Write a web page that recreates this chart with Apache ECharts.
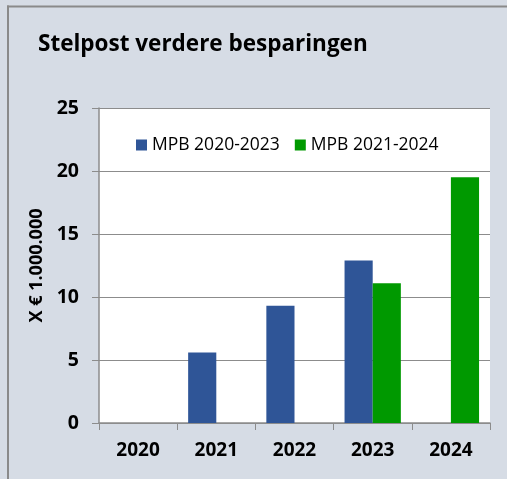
<!DOCTYPE html>
<html>
<head>
<meta charset="utf-8">
<script src="https://cdn.jsdelivr.net/npm/echarts@6/dist/echarts.min.js"></script>
<style>html,body{margin:0;padding:0;background:#d6dce5;}#c{width:507px;height:479px;}</style>
</head>
<body>
<div id="c"></div>
<script>
var categories = ['2020', '2021', '2022', '2023', '2024'];
var seriesNames = ['MPB 2020-2023', 'MPB 2021-2024'];
var mpb2020 = [0, 5.6, 9.3, 12.9, null];
var mpb2021 = [null, null, null, 11.1, 19.5];
var yTicks = { min: 0, max: 25, interval: 5 };

var font = '"Open Sans", "Noto Sans", sans-serif';
var chart = echarts.init(document.getElementById('c'));
chart.setOption({
  backgroundColor: '#d6dce5',
  animation: false,
  textStyle: { fontFamily: font },
  graphic: [
    { type: 'line', shape: { x1: 8, y1: 5.5, x2: 8, y2: 479 }, style: { stroke: '#8a8a8a', lineWidth: 2 } },
    { type: 'line', shape: { x1: 7, y1: 6.5, x2: 507, y2: 6.5 }, style: { stroke: '#8a8a8a', lineWidth: 2 } },
    { type: 'rect', z: -1, shape: { x: 99, y: 108, width: 391, height: 315 }, style: { fill: '#ffffff' } }
  ],
  title: {
    text: 'Stelpost verdere besparingen',
    left: 33, top: 28,
    textStyle: { fontFamily: font, fontWeight: 'bold', fontSize: 22.5, color: '#000' }
  },
  legend: {
    left: 131, top: 131,
    itemWidth: 11, itemHeight: 11, itemGap: 15,
    icon: 'rect',
    textStyle: { fontFamily: font, fontSize: 17.5, color: '#000' },
    data: seriesNames
  },
  grid: { left: 99, top: 108, right: 17, bottom: 56, containLabel: false },
  xAxis: {
    type: 'category',
    data: categories,
    axisLine: { lineStyle: { color: '#8c8c8c', width: 1.5 } },
    axisTick: { show: true, length: 7, lineStyle: { color: '#8c8c8c' } },
    axisLabel: { margin: 18, fontFamily: font, fontWeight: 'bold', fontSize: 19, color: '#000' }
  },
  yAxis: {
    type: 'value',
    min: yTicks.min, max: yTicks.max, interval: yTicks.interval,
    name: 'X € 1.000.000',
    nameLocation: 'middle',
    nameGap: 49,
    nameTextStyle: { fontFamily: font, fontWeight: 'bold', fontSize: 18, color: '#000' },
    axisLine: { show: true, lineStyle: { color: '#8c8c8c', width: 1.5 } },
    axisTick: { show: true, length: 7, lineStyle: { color: '#8c8c8c' } },
    splitLine: { lineStyle: { color: '#8c8c8c' } },
    axisLabel: { margin: 20, fontFamily: font, fontWeight: 'bold', fontSize: 19.5, color: '#000' }
  },
  series: [
    { name: seriesNames[0], type: 'bar', data: mpb2020, itemStyle: { color: '#2f5597' }, barGap: '0%', barCategoryGap: '28%' },
    { name: seriesNames[1], type: 'bar', data: mpb2021, itemStyle: { color: '#009900' }, barGap: '0%', barCategoryGap: '28%' }
  ]
});
</script>
</body>
</html>
